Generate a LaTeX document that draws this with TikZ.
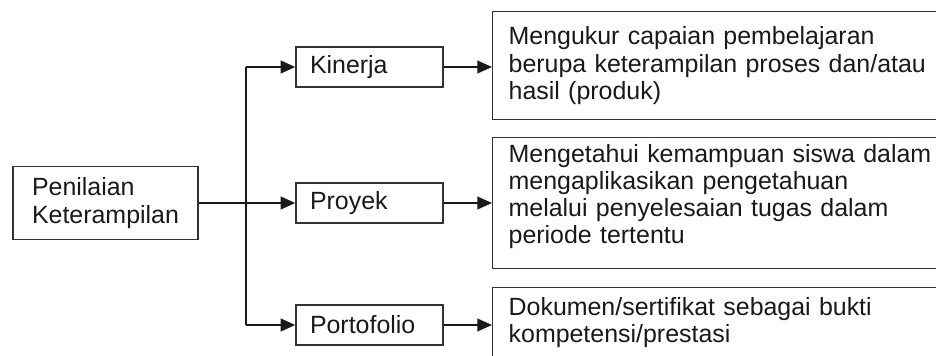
\documentclass[tikz,border=0pt]{standalone}
\usepackage{fontspec}
\setmainfont{Liberation Sans}
\usetikzlibrary{arrows.meta}

\tikzset{
  box/.style={draw=black!80, line width=1pt, text=black!90, font=\fontsize{18.7}{20.4}\selectfont},
  methodbox/.style={box, align=left, text width=89.25pt, inner xsep=10.5pt, minimum height=30pt},
  descbox/.style={box, anchor=north west, align=left, text width=357pt, inner xsep=12pt},
  link/.style={line width=1.4pt, black!90, -{Triangle[length=11pt, width=9.5pt]}}
}

\begin{document}
\begin{tikzpicture}[x=0.75pt, y=-0.75pt]

            \clip (0,0) rectangle (936,356);

            % Root
            \node[box, align=left, minimum width=138.75pt, minimum height=54.75pt] (pk) at (105.5,203) {Penilaian\\Keterampilan};

            % Methods
            \foreach \n/\t/\y in {kin/Kinerja/67, proy/Proyek/203, port/Portofolio/325}
            \node[methodbox] (\n) at (369.5,\y) {\t};

            % Descriptions
            \node[descbox, minimum height=81pt] (d1) at (492,11)
              {Mengukur capaian pembelajaran\\berupa keterampilan proses dan/atau\\hasil (produk)};
            \node[descbox, minimum height=98.25pt, text depth=75pt] (d2) at (492,137)
              {Mengetahui kemampuan siswa dalam\\mengaplikasikan pengetahuan\\melalui penyelesaian tugas dalam\\periode tertentu};
            \node[descbox, inner ysep=7pt, text depth=84pt] (d3) at (492,287)
              {Dokumen/sertifikat sebagai bukti\\kompetensi/prestasi};

            % Spine
            \coordinate (top) at (246,67);
            \coordinate (bot) at (246,325);
            \draw[line width=1.4pt, black!90] (top) -- (bot);

            % Connect
            \draw[link] (top) -- (kin.west);
            \draw[link] (pk.east) -- (proy.west);
            \draw[link] (bot) -- (port.west);

            \foreach \m/\d in {kin/d1, proy/d2, port/d3}
            \draw[link] (\m.east) -- (\m.east -| \d.west);

        \end{tikzpicture}
\end{document}
